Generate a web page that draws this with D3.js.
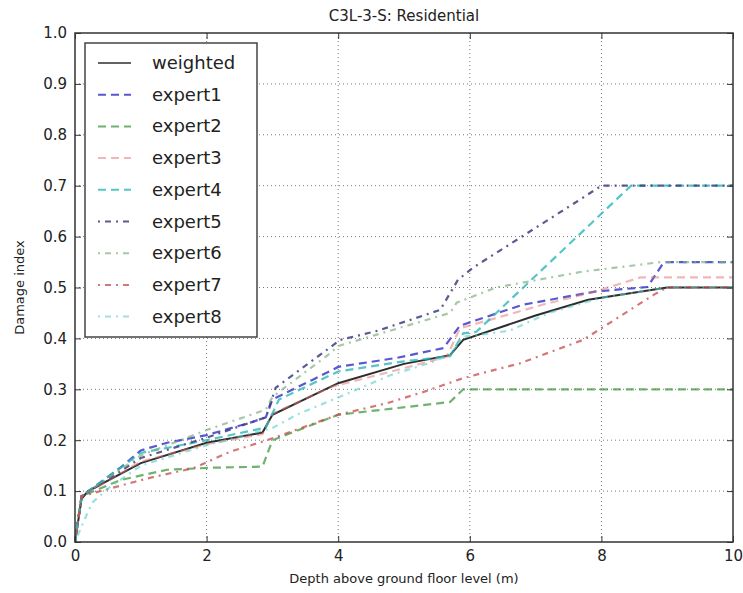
<!DOCTYPE html>
<html>
<head>
<meta charset="utf-8">
<script src="https://cdn.jsdelivr.net/npm/d3@7"></script>
<style>
  body { margin: 0; background: #fff; }
  text { font-family: "DejaVu Sans", sans-serif; fill: #222; }
</style>
</head>
<body>
<script>
// depth values (m) and damage index per curve
let weighted = [[0,0],[0.1,0.085],[0.2,0.1],[1,0.155],[2,0.195],[2.85,0.215],[3,0.25],[4,0.312],[5,0.35],[5.7,0.367],[5.9,0.397],[7,0.445],[7.8,0.476],[9,0.5],[10,0.5]];
let expert1 = [[0,0],[0.1,0.09],[0.7,0.147],[1,0.18],[1.4,0.195],[2,0.21],[2.7,0.236],[2.9,0.245],[3,0.28],[3.6,0.318],[4,0.344],[4.9,0.362],[5.6,0.381],[5.85,0.425],[6.8,0.466],[7.9,0.492],[8.7,0.501],[8.95,0.55],[10,0.55]];
let expert2 = [[0,0],[0.1,0.09],[0.7,0.122],[1.4,0.142],[2.1,0.146],[2.85,0.148],[3,0.2],[4,0.25],[5.7,0.275],[5.9,0.3],[10,0.3]];
let expert3 = [[0,0],[0.1,0.09],[1,0.158],[2,0.192],[2.85,0.212],[3,0.252],[3.9,0.305],[4.9,0.338],[5.65,0.364],[5.85,0.42],[6.4,0.44],[7.1,0.466],[7.9,0.492],[8.6,0.52],[10,0.52]];
let expert4 = [[0,0],[0.1,0.09],[1,0.175],[2,0.2],[2.9,0.225],[3.1,0.28],[4,0.335],[5,0.355],[5.7,0.365],[5.9,0.41],[6.1,0.413],[8.45,0.7],[10,0.7]];
let expert5 = [[0,0],[0.1,0.09],[1,0.165],[2,0.205],[2.9,0.245],[3.05,0.303],[4.03,0.397],[4.6,0.415],[5.55,0.456],[5.82,0.515],[6.05,0.539],[7.63,0.669],[8,0.7],[10,0.7]];
let expert6 = [[0,0],[0.1,0.09],[1,0.17],[2,0.22],[2.9,0.26],[3,0.285],[3.85,0.368],[4,0.385],[5.7,0.45],[5.8,0.47],[6.4,0.5],[7.7,0.531],[8.6,0.545],[8.9,0.55],[10,0.55]];
let expert7 = [[0,0],[0.1,0.09],[0.9,0.118],[1.2,0.128],[1.8,0.145],[2.35,0.177],[2.92,0.2],[4,0.25],[4.75,0.273],[5.3,0.295],[5.9,0.322],[6.76,0.351],[7.72,0.397],[8,0.42],[8.8,0.486],[9,0.5],[10,0.5]];
let expert8 = [[0,0],[0.12,0.037],[0.26,0.077],[0.5,0.105],[1,0.15],[2,0.19],[3,0.224],[3.37,0.25],[4,0.284],[4.8,0.328],[5.4,0.352],[5.7,0.368],[5.9,0.403],[6.6,0.415],[7.2,0.45],[8,0.48],[9,0.5],[10,0.5]];

let names = ["weighted","expert1","expert2","expert3","expert4","expert5","expert6","expert7","expert8"];
let seriesData = [weighted, expert1, expert2, expert3, expert4, expert5, expert6, expert7, expert8];
let colors = ["#222222","#3b3bc8","#3f9a3f","#e07070","#2ab8b8","#3e3e80","#80b080","#c84a4a","#5ccccc"];
let alphas = [0.95, 0.85, 0.75, 0.5, 0.8, 0.85, 0.7, 0.75, 0.6];
let dashes = [null, "8,5", "8,5", "8,5", "8,5", "2,5,6,5", "2,5,6,5", "2,5,6,5", "2,5,6,5"];

let xTicks = [0, 2, 4, 6, 8, 10];
let yTicks = [0, 0.1, 0.2, 0.3, 0.4, 0.5, 0.6, 0.7, 0.8, 0.9, 1.0];

let W = 743, H = 593;
let m = {left: 75, right: 10, top: 33, bottom: 51};

let svg = d3.select("body").append("svg")
    .attr("width", W)
    .attr("height", H);

let x = d3.scaleLinear().domain([0, 10]).range([m.left, W - m.right]);
let y = d3.scaleLinear().domain([0, 1]).range([H - m.bottom, m.top]);

// grid
svg.append("g").selectAll("line").data(xTicks.slice(1, -1)).join("line")
    .attr("x1", d => x(d)).attr("x2", d => x(d))
    .attr("y1", y(0)).attr("y2", y(1))
    .attr("stroke", "#555").attr("stroke-width", 0.8)
    .attr("stroke-dasharray", "1,3");
svg.append("g").selectAll("line").data(yTicks.slice(1, -1)).join("line")
    .attr("y1", d => y(d)).attr("y2", d => y(d))
    .attr("x1", x(0)).attr("x2", x(10))
    .attr("stroke", "#555").attr("stroke-width", 0.8)
    .attr("stroke-dasharray", "1,3");

// curves
let line = d3.line().x(d => x(d[0])).y(d => y(d[1]));
seriesData.forEach((s, i) => {
    svg.append("path")
        .attr("d", line(s))
        .attr("fill", "none")
        .attr("stroke", colors[i])
        .attr("stroke-opacity", alphas[i])
        .attr("stroke-width", i == 0 ? 2 : 2.2)
        .attr("stroke-dasharray", dashes[i]);
});

// axes (ticks inward, matplotlib classic look)
let xAxis = svg.append("g")
    .attr("transform", `translate(0,${y(0)})`)
    .call(d3.axisBottom(x).tickValues(xTicks).tickSize(-6).tickPadding(8).tickFormat(d3.format("d")));
let xAxisTop = svg.append("g")
    .attr("transform", `translate(0,${y(1)})`)
    .call(d3.axisTop(x).tickValues(xTicks).tickSize(-6).tickFormat(""));
let yAxis = svg.append("g")
    .attr("transform", `translate(${x(0)},0)`)
    .call(d3.axisLeft(y).tickValues(yTicks).tickSize(-6).tickPadding(8).tickFormat(d3.format(".1f")));
let yAxisRight = svg.append("g")
    .attr("transform", `translate(${x(10)},0)`)
    .call(d3.axisRight(y).tickValues(yTicks).tickSize(-6).tickFormat(""));

[xAxis, xAxisTop, yAxis, yAxisRight].forEach(a => {
    a.select(".domain").remove();
    a.selectAll(".tick line").attr("stroke", "#333");
    a.selectAll("text").attr("font-size", 15).attr("fill", "#333")
        .attr("font-family", "DejaVu Sans, sans-serif");
});

svg.append("rect")
    .attr("x", x(0)).attr("y", y(1))
    .attr("width", x(10) - x(0)).attr("height", y(0) - y(1))
    .attr("fill", "none").attr("stroke", "#333").attr("stroke-width", 1.5);

// labels
svg.append("text").attr("x", (x(0) + x(10)) / 2).attr("y", 21)
    .attr("text-anchor", "middle").attr("font-size", 15)
    .text("C3L-3-S: Residential");
svg.append("text").attr("x", (x(0) + x(10)) / 2).attr("y", 583)
    .attr("text-anchor", "middle").attr("font-size", 13)
    .text("Depth above ground floor level (m)");
svg.append("text")
    .attr("transform", `translate(24,${(y(0) + y(1)) / 2}) rotate(-90)`)
    .attr("text-anchor", "middle").attr("font-size", 13)
    .text("Damage index");

// legend
let lg = svg.append("g");
lg.append("rect")
    .attr("x", 85).attr("y", 43).attr("width", 172).attr("height", 294)
    .attr("fill", "#fff").attr("stroke", "#444").attr("stroke-width", 1.5);
names.forEach((n, i) => {
    let ly = 63 + i * 31.7;
    lg.append("line")
        .attr("x1", 98).attr("x2", 131).attr("y1", ly).attr("y2", ly)
        .attr("stroke", colors[i]).attr("stroke-opacity", alphas[i])
        .attr("stroke-width", i == 0 ? 1.6 : 2)
        .attr("stroke-dasharray", dashes[i]);
    lg.append("text").attr("x", 152).attr("y", ly + 6)
        .attr("font-size", 18).attr("fill", "#333")
        .text(n);
});
</script>
</body>
</html>
